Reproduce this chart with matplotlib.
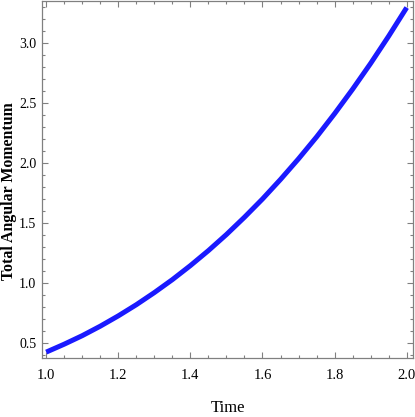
import matplotlib
matplotlib.use("Agg")
import matplotlib.pyplot as plt
from matplotlib.ticker import MultipleLocator

# data
time = [1.00, 1.05, 1.10, 1.15, 1.20, 1.25, 1.30, 1.35, 1.40, 1.45, 1.50,
        1.55, 1.60, 1.65, 1.70, 1.75, 1.80, 1.85, 1.90, 1.95, 2.00]
total_angular_momentum = [0.420, 0.486, 0.557, 0.636, 0.722, 0.815, 0.916,
                          1.024, 1.141, 1.266, 1.400, 1.544, 1.696, 1.859,
                          2.031, 2.213, 2.407, 2.611, 2.826, 3.053, 3.291]
x_label = "Time"
y_label = "Total Angular Momentum"

plt.rcParams['font.family'] = ['Liberation Serif', 'DejaVu Serif']

W, H = 415, 417
fig = plt.figure(figsize=(W / 100, H / 100), dpi=100)
ax = fig.add_axes([41.7 / W, 1 - 357.5 / H, (413 - 41.7) / W, (357.5 - 0.5) / H])

ax.plot(time, total_angular_momentum, color='#1a1aff', lw=3.6,
        solid_capstyle='butt', solid_joinstyle='round')

ax.set_xlim(0.9875, 2.0175)
ax.set_ylim(0.375, 3.35)

ax.xaxis.set_major_locator(MultipleLocator(0.2))
ax.xaxis.set_minor_locator(MultipleLocator(0.05))
ax.yaxis.set_major_locator(MultipleLocator(0.5))
ax.yaxis.set_minor_locator(MultipleLocator(0.1))
ax.xaxis.set_major_formatter(lambda v, p: f"{v:.1f}")
ax.yaxis.set_major_formatter(lambda v, p: f"{v:.1f}")

frame = '#808080'
for s in ax.spines.values():
    s.set_color(frame)
    s.set_linewidth(0.9)
ax.tick_params(which='both', direction='in', top=True, right=True,
               color=frame, width=0.8, labelcolor='black', labelsize=10.5)
ax.tick_params(axis='y', labelsize=10)
ax.tick_params(which='major', length=4.5)
ax.tick_params(which='minor', length=2.5)
ax.tick_params(axis='x', which='major', pad=8)
ax.tick_params(axis='y', which='major', pad=4)

fig.text(228 / W, 1 - 408 / H, x_label, ha='center', va='center', fontsize=12)
fig.text(9.3 / W, 1 - 191 / H, y_label, ha='center', va='center',
         rotation=90, fontsize=11.4, fontweight='bold')

fig.savefig("out.png", dpi=100)
